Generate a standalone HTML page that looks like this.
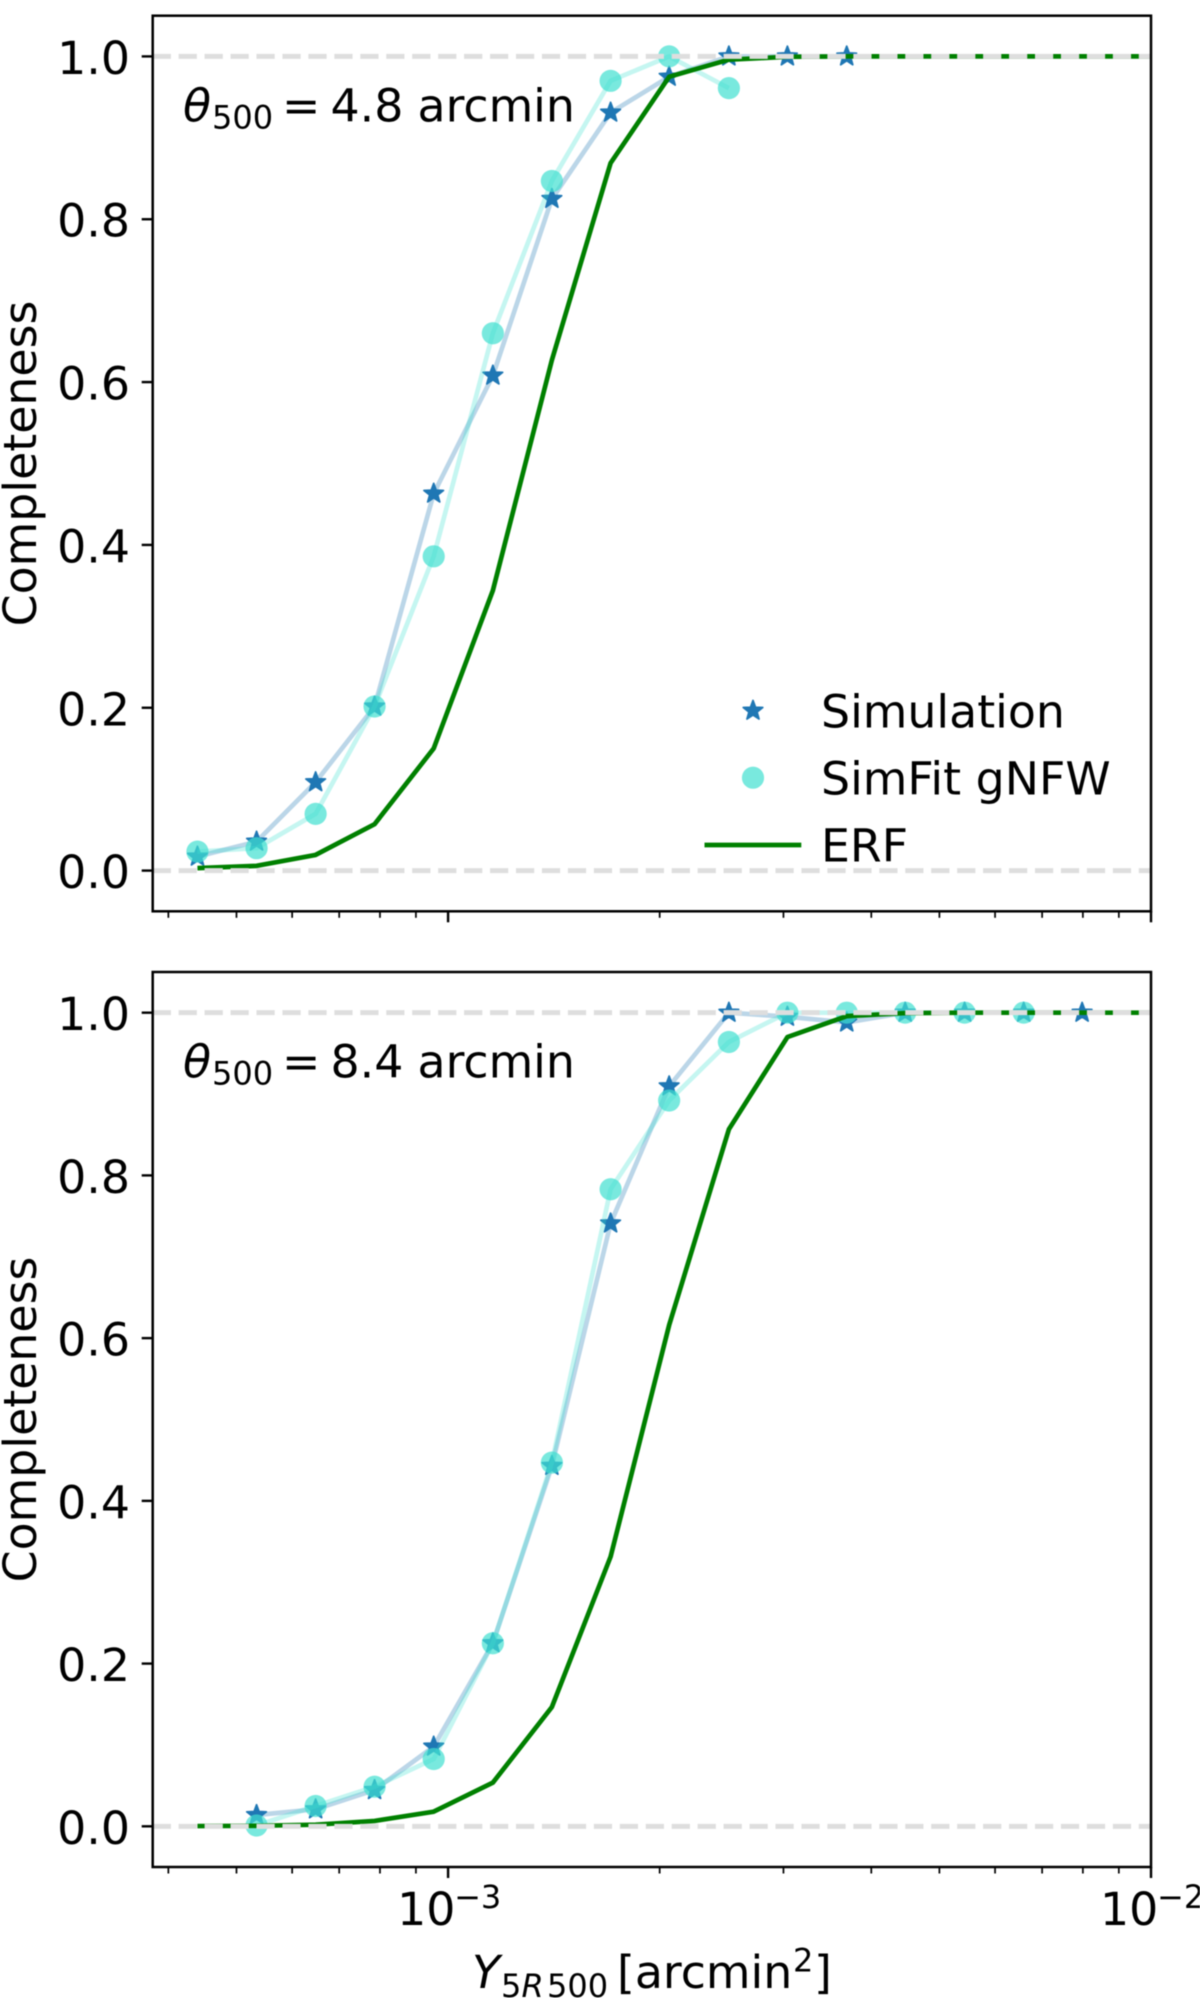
<!DOCTYPE html>
<html lang="en">
<head>
<meta charset="utf-8">
<title>Completeness vs Y5R500</title>
<style>
  html, body { margin: 0; padding: 0; background: #fff; }
  body { width: 1200px; height: 1998px; overflow: hidden; }
  svg { display: block; filter: blur(0.45px); }
  text { font-family: "DejaVu Sans", "Liberation Sans", sans-serif; fill: #000; }
  .big { font-size: 45.8px; }
  .small { font-size: 32px; }
  .it { font-style: italic; }
</style>
</head>
<body>
<svg id="figure" xmlns="http://www.w3.org/2000/svg" width="1200" height="1998" viewBox="0 0 1200 1998">
  <rect x="0" y="0" width="1200" height="1998" fill="#fff"/>
  <defs>
    <clipPath id="clip-top"><rect x="152.7" y="15.7" width="998.3" height="895.6"/></clipPath>
    <clipPath id="clip-bottom"><rect x="152.7" y="972" width="998.3" height="895"/></clipPath>
  </defs>
  <g id="panel-top"></g>
  <g id="panel-bottom"></g>

  <g>
    <text class="big it" x="183" y="121.7">θ</text>
    <text class="small" x="212" y="128.5">500</text>
    <text class="big" x="282" y="121.7">=</text>
    <text class="big" x="330.5" y="121.7">4.8</text>
    <text class="big" x="417.5" y="121.7">arcmin</text>
  </g>
  <g>
    <text class="big it" x="183" y="1077.7">θ</text>
    <text class="small" x="212" y="1084.5">500</text>
    <text class="big" x="282" y="1077.7">=</text>
    <text class="big" x="330.5" y="1077.7">8.4</text>
    <text class="big" x="417.5" y="1077.7">arcmin</text>
  </g>

  <text class="big" text-anchor="middle" transform="translate(36,463.5) rotate(-90)">Completeness</text>
  <text class="big" text-anchor="middle" transform="translate(36,1419.5) rotate(-90)">Completeness</text>

  <g>
    <text class="big it" x="472" y="1988">Y</text>
    <text class="small" x="501" y="1997">5</text>
    <text class="small it" x="521.5" y="1997">R</text>
    <text class="small" x="547" y="1997">500</text>
    <text class="big" x="617" y="1988">[arcmin</text>
    <text class="small" x="793" y="1971.7">2</text>
    <text class="big" x="814" y="1988">]</text>
  </g>

  <g id="legend">
    <text class="big" x="821" y="727.7">Simulation</text>
    <text class="big" x="821" y="794.3">SimFit gNFW</text>
    <text class="big" x="821" y="861.3">ERF</text>
  </g>
</svg>

<script>
// Chart data
const binCenters = [4.40e-4, 5.34e-4, 6.48e-4, 7.86e-4, 9.54e-4, 1.158e-3, 1.405e-3, 1.703e-3, 2.063e-3, 2.509e-3, 3.039e-3, 3.691e-3, 4.47e-3, 5.43e-3, 6.59e-3, 7.98e-3, 9.67e-3, 1.17e-2];

const simulationTop = [0.0172, 0.0356, 0.1086, 0.2015, 0.463, 0.608, 0.825, 0.931, 0.975, 1.0, 1.0, 1.0, null, null, null, null, null, null];
const simfitTop = [0.0233, 0.0275, 0.0697, 0.2015, 0.386, 0.660, 0.847, 0.970, 1.0, 0.961, null, null, null, null, null, null, null, null];
const erfTop = [0.003, 0.0058, 0.0193, 0.057, 0.150, 0.344, 0.627, 0.869, 0.975, 0.996, 0.9995, 1.0, 1.0, 1.0, 1.0, 1.0, 1.0, 1.0];

const simulationBottom = [null, 0.0139, 0.0209, 0.0446, 0.098, 0.225, 0.443, 0.741, 0.9095, 1.0, 0.995, 0.988, 1.0, 1.0, 1.0, 1.0, null, null];
const simfitBottom = [null, 0.001, 0.025, 0.0487, 0.0827, 0.225, 0.447, 0.783, 0.892, 0.964, 1.0, 1.0, 1.0, 1.0, 1.0, null, null, null];
const erfBottom = [0.0003, 0.0006, 0.002, 0.0066, 0.018, 0.0537, 0.1466, 0.3314, 0.616, 0.8567, 0.970, 0.9958, 0.9995, 1.0, 1.0, 1.0, 1.0, 1.0];

const yTicks = [0.0, 0.2, 0.4, 0.6, 0.8, 1.0];
const yTickLabels = ['0.0', '0.2', '0.4', '0.6', '0.8', '1.0'];
const xMajorTicks = [1e-3, 1e-2];
const xMajorTickExponents = ['−3', '−2'];
const xMinorTicks = [4e-4, 5e-4, 6e-4, 7e-4, 8e-4, 9e-4, 2e-3, 3e-3, 4e-3, 5e-3, 6e-3, 7e-3, 8e-3, 9e-3];
const referenceLevels = [0.0, 1.0];

// Axis functions
const AX_LEFT = 152.7, AX_RIGHT = 1151;
const X_MIN = 3.8e-4, X_MAX = 1e-2;
const Y_MIN = -0.05, Y_MAX = 1.05;
function xScale(v) {
  const lo = Math.log10(X_MIN), hi = Math.log10(X_MAX);
  return AX_LEFT + (Math.log10(v) - lo) / (hi - lo) * (AX_RIGHT - AX_LEFT);
}
function makeYScale(top, bottom) {
  return function (v) {
    return bottom - (v - Y_MIN) / (Y_MAX - Y_MIN) * (bottom - top);
  };
}

const SVG_NS = 'http://www.w3.org/2000/svg';
function el(parent, tag, attrs) {
  const n = document.createElementNS(SVG_NS, tag);
  for (const k in attrs) n.setAttribute(k, attrs[k]);
  parent.appendChild(n);
  return n;
}
function starPath(cx, cy, R) {
  const r = R * 0.42;
  let d = '';
  for (let i = 0; i < 10; i++) {
    const rad = i % 2 === 0 ? R : r;
    const a = -Math.PI / 2 + i * Math.PI / 5;
    d += (i === 0 ? 'M' : 'L') + (cx + rad * Math.cos(a)).toFixed(2) + ' ' + (cy + rad * Math.sin(a)).toFixed(2);
  }
  return d + 'Z';
}
function seriesPoints(values, yScale) {
  const pts = [];
  values.forEach(function (v, i) {
    if (v !== null) pts.push([xScale(binCenters[i]), yScale(v)]);
  });
  return pts;
}
function polyPoints(pts) {
  return pts.map(function (p) { return p[0].toFixed(2) + ',' + p[1].toFixed(2); }).join(' ');
}

const STAR_R = 10.3, STAR_EDGE = 1.7, DOT_R = 11.1, LINE_W = 4.7;
const STAR_COLOR = '#1f77b4', DOT_COLOR = '#40e0d0', ERF_COLOR = '#008000';

function drawPanel(group, clipId, top, bottom, sim, fit, erf, showXLabels, key) {
  const yScale = makeYScale(top, bottom);
  const plot = el(group, 'g', { 'clip-path': 'url(#' + clipId + ')' });
  
  

  const simPts = seriesPoints(sim, yScale);
  const simLine = el(plot, 'polyline', { points: polyPoints(simPts), fill: 'none', stroke: STAR_COLOR, 'stroke-opacity': 0.3, 'stroke-width': LINE_W, 'stroke-linejoin': 'round' });
  
  
  simPts.forEach(function (p) {
    const s = el(plot, 'path', { d: starPath(p[0], p[1], STAR_R), fill: STAR_COLOR, stroke: STAR_COLOR, 'stroke-width': STAR_EDGE, 'stroke-linejoin': 'round' });
    
    
  });

  const fitPts = seriesPoints(fit, yScale);
  const fitLine = el(plot, 'polyline', { points: polyPoints(fitPts), fill: 'none', stroke: DOT_COLOR, 'stroke-opacity': 0.3, 'stroke-width': LINE_W, 'stroke-linejoin': 'round' });
  
  
  fitPts.forEach(function (p) {
    const c = el(plot, 'circle', { cx: p[0], cy: p[1], r: DOT_R, fill: DOT_COLOR, 'fill-opacity': 0.7 });
    
    
  });

  const erfLine = el(plot, 'polyline', { points: polyPoints(seriesPoints(erf, yScale)), fill: 'none', stroke: ERF_COLOR, 'stroke-width': LINE_W, 'stroke-linejoin': 'round' });
  
  

  referenceLevels.forEach(function (level) {
    const h = el(plot, 'line', { x1: AX_LEFT, x2: AX_RIGHT, y1: yScale(level), y2: yScale(level), stroke: '#dedede', 'stroke-width': 5, 'stroke-dasharray': '18.2 7.75' });
    
    
  });

  const frame = el(group, 'rect', { x: AX_LEFT, y: top, width: AX_RIGHT - AX_LEFT, height: bottom - top, fill: 'none', stroke: '#000', 'stroke-width': 2.5 });
  
  

  yTicks.forEach(function (v, i) {
    const y = yScale(v);
    const t = el(group, 'line', { x1: AX_LEFT - 11, x2: AX_LEFT, y1: y, y2: y, stroke: '#000', 'stroke-width': 2.4 });
    
    
    const lab = el(group, 'text', { x: 130, y: y + 17.5, 'text-anchor': 'end', class: 'big' });
    lab.textContent = yTickLabels[i];
    
    
  });

  xMinorTicks.forEach(function (v) {
    const x = xScale(v);
    const t = el(group, 'line', { x1: x, x2: x, y1: bottom, y2: bottom + 6.5, stroke: '#000', 'stroke-width': 1.7 });
    
    
  });
  xMajorTicks.forEach(function (v, i) {
    const x = xScale(v);
    const t = el(group, 'line', { x1: x, x2: x, y1: bottom, y2: bottom + 11, stroke: '#000', 'stroke-width': 2.4 });
    
    
    if (showXLabels) {
      const lab = el(group, 'text', { x: x - 51, y: bottom + 58, class: 'big' });
      lab.textContent = '10';
      
      
      const exp = el(group, 'text', { x: x + 6, y: bottom + 41, class: 'small' });
      exp.textContent = xMajorTickExponents[i];
      
      
    }
  });
}

drawPanel(document.getElementById('panel-top'), 'clip-top', 15.7, 911.3, simulationTop, simfitTop, erfTop, false, 'top');
drawPanel(document.getElementById('panel-bottom'), 'clip-bottom', 972, 1867, simulationBottom, simfitBottom, erfBottom, true, 'bottom');

const legendGroup = document.getElementById('legend');
const legendStar = el(legendGroup, 'path', { d: starPath(753, 710.7, STAR_R), fill: STAR_COLOR, stroke: STAR_COLOR, 'stroke-width': STAR_EDGE, 'stroke-linejoin': 'round' });


const legendDot = el(legendGroup, 'circle', { cx: 753, cy: 777.7, r: DOT_R, fill: DOT_COLOR, 'fill-opacity': 0.7 });


const legendLine = el(legendGroup, 'line', { x1: 704.5, x2: 801.3, y1: 845, y2: 845, stroke: ERF_COLOR, 'stroke-width': LINE_W });


</script>
</body>
</html>
